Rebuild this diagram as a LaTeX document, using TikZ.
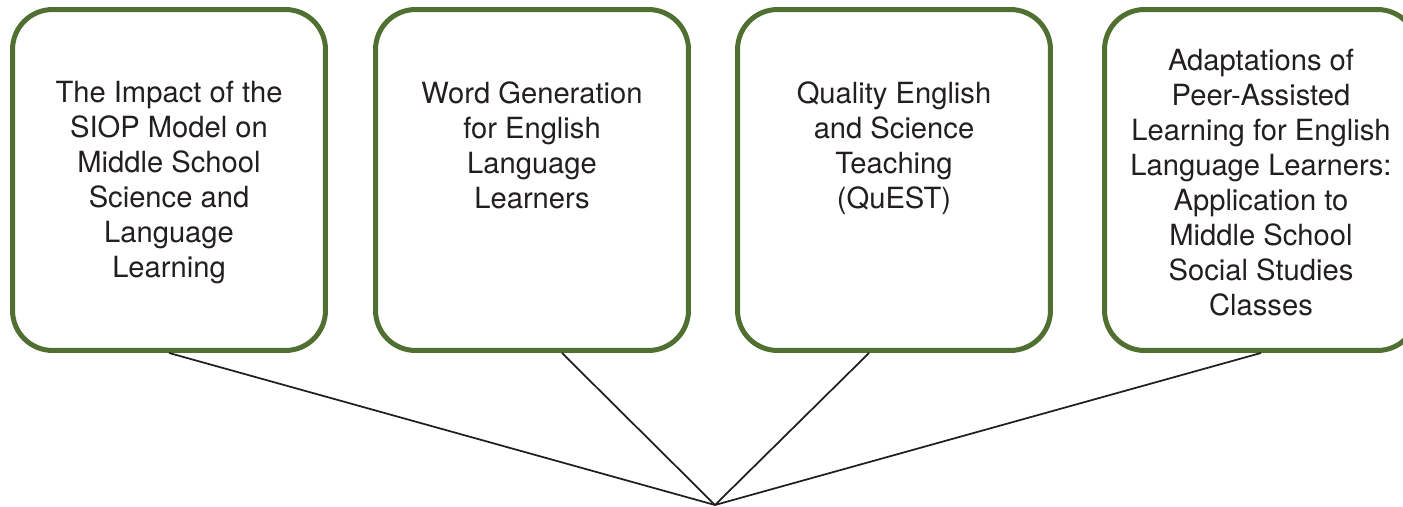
\documentclass[tikz,border=0pt]{standalone}
\usepackage{fontspec}
\setmainfont{TeX Gyre Heros}
\usepackage{tikz}
\usetikzlibrary{positioning}
\definecolor{cardgreen}{RGB}{80,112,50}
\definecolor{ink}{RGB}{35,31,32}
\tikzstyle{card} = [rectangle, draw=cardgreen, line width=0.1cm, rounded corners=0.8cm, minimum width=6.26cm, minimum height=6.82cm, fill=white]
\tikzstyle{blurb} = [align=center, inner sep=0pt, text=ink, font=\fontsize{16.6}{19.9}\selectfont, anchor=north]
\tikzstyle{link} = [draw, line width=0.035cm, ink]

\begin{document}
\begin{tikzpicture}[x=0.02cm, y=-0.02cm]
        \useasboundingbox (0,0) rectangle (1403,507);
        % Place nodes
        \node at (169, 180) [card] (b1) {};
        \node at (532, 180) [card] (b2) {};
        \node at (894, 180) [card] (b3) {};
        \node at (1261, 180) [card] (b4) {};
        \node at (169, 81) [blurb] (t1) {The Impact of the\\SIOP Model on\\Middle School\\Science and\\Language\\Learning};
        \node at (532, 81) [blurb] (t2) {Word Generation\\for English\\Language\\Learners};
        \node at (894, 81) [blurb] (t3) {Quality English\\and Science\\Teaching\\(QuEST)};
        \node at (1261, 49) [blurb] (t4) {Adaptations of\\Peer-Assisted\\Learning for English\\Language Learners:\\Application to\\Middle School\\Social Studies\\Classes};
        \coordinate (hub) at (715, 505);

        % Draw edges
        \path [link] (b1.south) -- (hub);
        \path [link] ([xshift=0.6cm]b2.south) -- (hub);
        \path [link] ([xshift=-0.5cm]b3.south) -- (hub);
        \path [link] (b4.south) -- (hub);
    \end{tikzpicture}
\end{document}
